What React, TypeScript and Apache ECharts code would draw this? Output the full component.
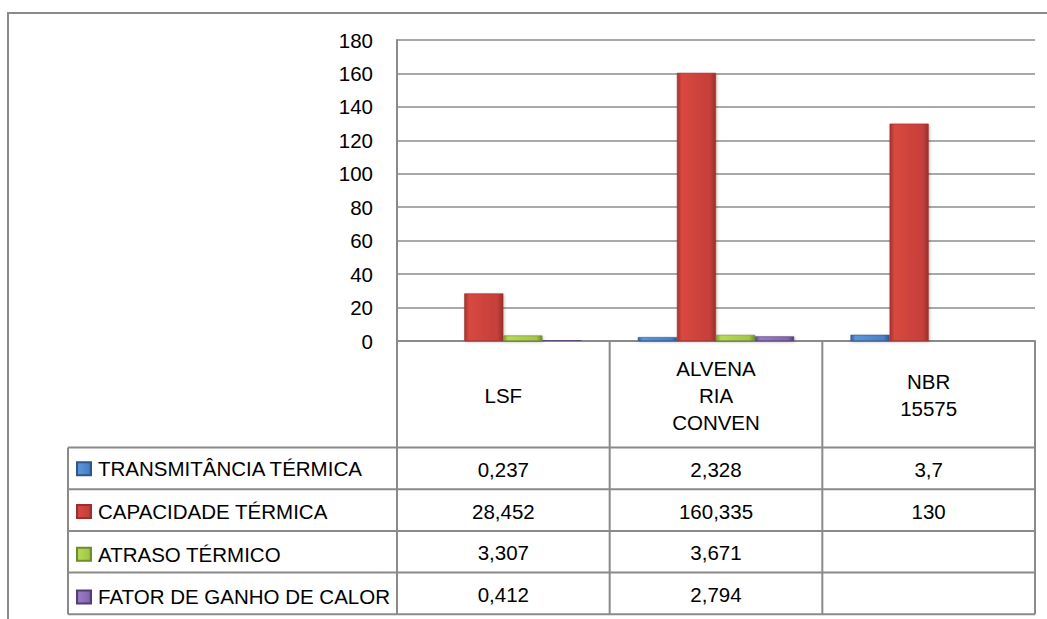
import React, { useEffect, useRef } from "react";
import * as echarts from "echarts";

const categories = ["LSF", "ALVENA\nRIA\nCONVEN", "NBR\n15575"];
const seriesNames = [
  "TRANSMITÂNCIA TÉRMICA",
  "CAPACIDADE TÉRMICA",
  "ATRASO TÉRMICO",
  "FATOR DE GANHO DE CALOR",
];
const transmitancia: (number | null)[] = [0.237, 2.328, 3.7];
const capacidade: (number | null)[] = [28.452, 160.335, 130];
const atraso: (number | null)[] = [3.307, 3.671, null];
const fator: (number | null)[] = [0.412, 2.794, null];
const yMin = 0;
const yMax = 180;
const yInterval = 20;

const seriesData = [transmitancia, capacidade, atraso, fator];
const palette = [
  ["#345F99", "#5C95DA", "#4A80C4", "#2F568C"],
  ["#A8322F", "#D8483F", "#C63F3A", "#99302C"],
  ["#7E9E34", "#B4DA55", "#A2C64A", "#6F8C2C"],
  ["#5E4684", "#9A7BC6", "#8567AE", "#533D76"],
];

const FONT = "'Liberation Sans', Arial, sans-serif";
const FS = 20.5;
const W = 1047;
const H = 619;
const PLOT_LEFT = 397;
const PLOT_RIGHT = 1035;
const PLOT_TOP = 40;
const AXIS_Y = 341;
const TABLE_LEFT = 68;
const HEADER_BOTTOM = 447.5;
const ROW_H = 41.7;
const LINE_COLOR = "#8a8a8a";

function fmt(v: number | null): string {
  if (v === null || v === undefined) return "";
  return String(v).replace(".", ",");
}

function bevel(c: string[]) {
  return new echarts.graphic.LinearGradient(0, 0, 1, 0, [
    { offset: 0, color: c[0] },
    { offset: 0.12, color: c[1] },
    { offset: 0.85, color: c[2] },
    { offset: 1, color: c[3] },
  ]);
}

export default function App() {
  const ref = useRef<HTMLDivElement>(null);

  useEffect(() => {
    document.body.style.margin = "0";
    if (!ref.current) return;
    const chart = echarts.init(ref.current, undefined, { renderer: "svg" });

    chart.setOption({
      animation: false,
      textStyle: { fontFamily: FONT },
      grid: {
        left: PLOT_LEFT,
        right: W - PLOT_RIGHT,
        top: PLOT_TOP,
        bottom: H - AXIS_Y,
        containLabel: false,
      },
      legend: {
        orient: "vertical",
        left: 76,
        top: HEADER_BOTTOM + ROW_H / 2 - 10,
        padding: 0,
        itemWidth: 14,
        itemHeight: 13,
        itemGap: ROW_H - 20,
        selectedMode: false,
        icon: "rect",
        textStyle: {
          fontFamily: FONT,
          fontSize: FS,
          lineHeight: 20,
          color: "#000",
          padding: [0, 0, 0, 2],
        },
        data: seriesNames,
      },
      xAxis: {
        type: "category",
        data: categories,
        axisLine: { show: true, lineStyle: { color: LINE_COLOR, width: 2 } },
        axisTick: { show: false },
        axisLabel: {
          margin: 54,
          verticalAlign: "middle",
          fontFamily: FONT,
          fontSize: FS,
          lineHeight: 27,
          color: "#000",
          interval: 0,
        },
      },
      yAxis: {
        type: "value",
        min: yMin,
        max: yMax,
        interval: yInterval,
        axisLine: { show: true, lineStyle: { color: LINE_COLOR, width: 2 } },
        axisTick: { show: false },
        axisLabel: {
          margin: 24,
          fontFamily: FONT,
          fontSize: FS,
          color: "#000",
        },
        splitLine: { lineStyle: { color: "#8c8c8c", width: 1.5 } },
      },
      series: seriesNames.map((name, i) => ({
        name,
        type: "bar",
        data: seriesData[i],
        barGap: "0%",
        barCategoryGap: "26.5%",
        itemStyle: {
          color: bevel(palette[i]),
          borderColor: palette[i][3],
          borderWidth: 0.6,
          shadowColor: "rgba(0,0,0,0.25)",
          shadowBlur: 3,
          shadowOffsetX: 1,
          shadowOffsetY: 1,
        },
      })),
    });

    // Data table built from the library's own category scale
    const centers = categories.map((_, i) =>
      chart.convertToPixel({ xAxisIndex: 0 }, i) as number
    );
    const bounds: number[] = [PLOT_LEFT];
    for (let i = 0; i < centers.length - 1; i++) bounds.push((centers[i] + centers[i + 1]) / 2);
    bounds.push(PLOT_RIGHT);
    const tableBottom = HEADER_BOTTOM + ROW_H * seriesNames.length;

    const elements: any[] = [];
    elements.push({
      type: "rect",
      shape: { x: 8, y: 13, width: W + 50, height: H + 50 },
      style: { fill: "none", stroke: "#8a8a8a", lineWidth: 2 },
      silent: true,
      z: 0,
    });
    bounds.forEach((x) => {
      elements.push({
        type: "line",
        shape: { x1: x, y1: AXIS_Y, x2: x, y2: tableBottom },
        style: { stroke: LINE_COLOR, lineWidth: 2 },
        silent: true,
      });
    });
    elements.push({
      type: "line",
      shape: { x1: TABLE_LEFT, y1: HEADER_BOTTOM, x2: TABLE_LEFT, y2: tableBottom },
      style: { stroke: LINE_COLOR, lineWidth: 2 },
      silent: true,
    });
    for (let r = 0; r <= seriesNames.length; r++) {
      const y = HEADER_BOTTOM + r * ROW_H;
      elements.push({
        type: "line",
        shape: { x1: TABLE_LEFT, y1: y, x2: PLOT_RIGHT, y2: y },
        style: { stroke: LINE_COLOR, lineWidth: 2 },
        silent: true,
      });
    }
    seriesData.forEach((row, r) => {
      row.forEach((v, c) => {
        const txt = fmt(v);
        if (!txt) return;
        elements.push({
          type: "text",
          x: centers[c],
          y: HEADER_BOTTOM + r * ROW_H + ROW_H / 2 + 1,
          style: {
            text: txt,
            fill: "#000",
            font: `${FS}px ${FONT}`,
            align: "center",
            verticalAlign: "middle",
          },
          silent: true,
        });
      });
    });

    chart.setOption({ graphic: { elements } });

    return () => chart.dispose();
  }, []);

  return <div ref={ref} style={{ width: W, height: H }} />;
}
